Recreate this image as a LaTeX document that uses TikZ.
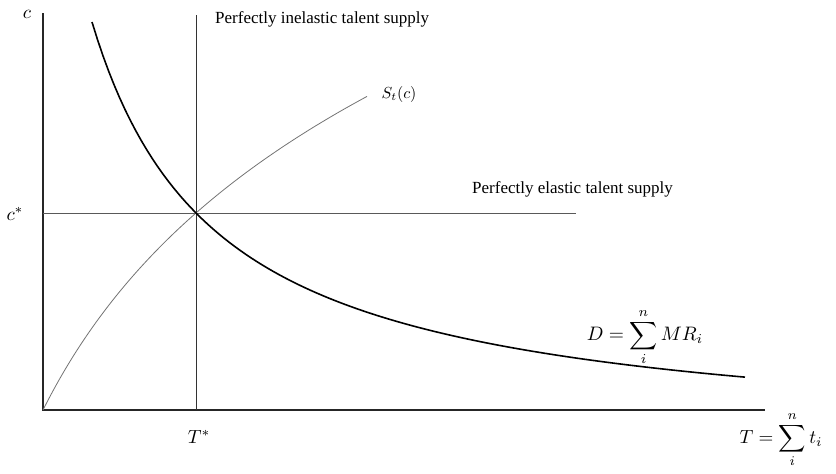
\documentclass[tikz,border=0pt]{standalone}
\usepackage{fontspec}
\setmainfont{Liberation Serif}
\usepackage{graphicx}
\usepackage{tikz}
\usetikzlibrary{positioning,calc}

\begin{document}
\begin{tikzpicture}[x=1pt, y=-1pt,
  axisline/.style={black!85, line width=1.3pt},
  refline/.style={black!80, line width=0.7pt},
  supplycurve/.style={black!55, line width=0.8pt},
  demandcurve/.style={black, line width=1.6pt},
  lbl/.style={font=\fontsize{17}{20}\selectfont, inner sep=1pt},
  mathlbl/.style={inner sep=1pt},
]
\useasboundingbox (0,0) rectangle (836,474);
% pixel coordinates, y grows downwards
\coordinate (O) at (43,410);
\coordinate (ytop) at (43,13);
\coordinate (xend) at (765,410);
\coordinate (eq) at (196,213);
\coordinate (vtop) at (196,15);
\coordinate (vbot) at (196,410);
\coordinate (hleft) at (43,213);
\coordinate (hright) at (576,213);

% axes
\draw[axisline] (ytop) -- (O) -- (xend);
% perfectly inelastic / elastic supply
\draw[refline] (vtop) -- (vbot);
\draw[refline, black!65] (hleft) -- (hright);
% S_t(c): concave, log-shaped through the equilibrium
\draw[supplycurve] plot[domain=43:367, samples=80] (\x, {410-239.7*ln(1+(\x-43)/120)});
% D = sum MR_i (hyperbola, scaled to keep numbers small)
\draw[demandcurve] plot[domain=92:745, samples=120] (\x, {410-(538.73/((\x+35)/100)-36.2)});

% labels (math set at 10pt and scaled up)
\node[mathlbl] (clab) at (27,14) {\scalebox{1.9}{$c$}};
\node[mathlbl] (cstar) at (15,214) {\scalebox{1.9}{$c^*$}};
\node[mathlbl] (Tstar) at (199,437) {\scalebox{1.9}{$T^*$}};
\node[mathlbl] (Tlab) at (781,440) {\scalebox{1.9}{$T=\displaystyle\sum_i^n t_i$}};
\node[mathlbl] (Dlab) at (645,337) {\scalebox{1.95}{$D=\displaystyle\sum_i^n MR_i$}};
\node[mathlbl] (Slab) at (399,94) {\scalebox{1.6}{$S_t(c)$}};
\node[lbl, anchor=west] (inel) at (214,19) {Perfectly inelastic talent supply};
\node[lbl, anchor=west] (elas) at (471,189) {Perfectly elastic talent supply};
\end{tikzpicture}
\end{document}
